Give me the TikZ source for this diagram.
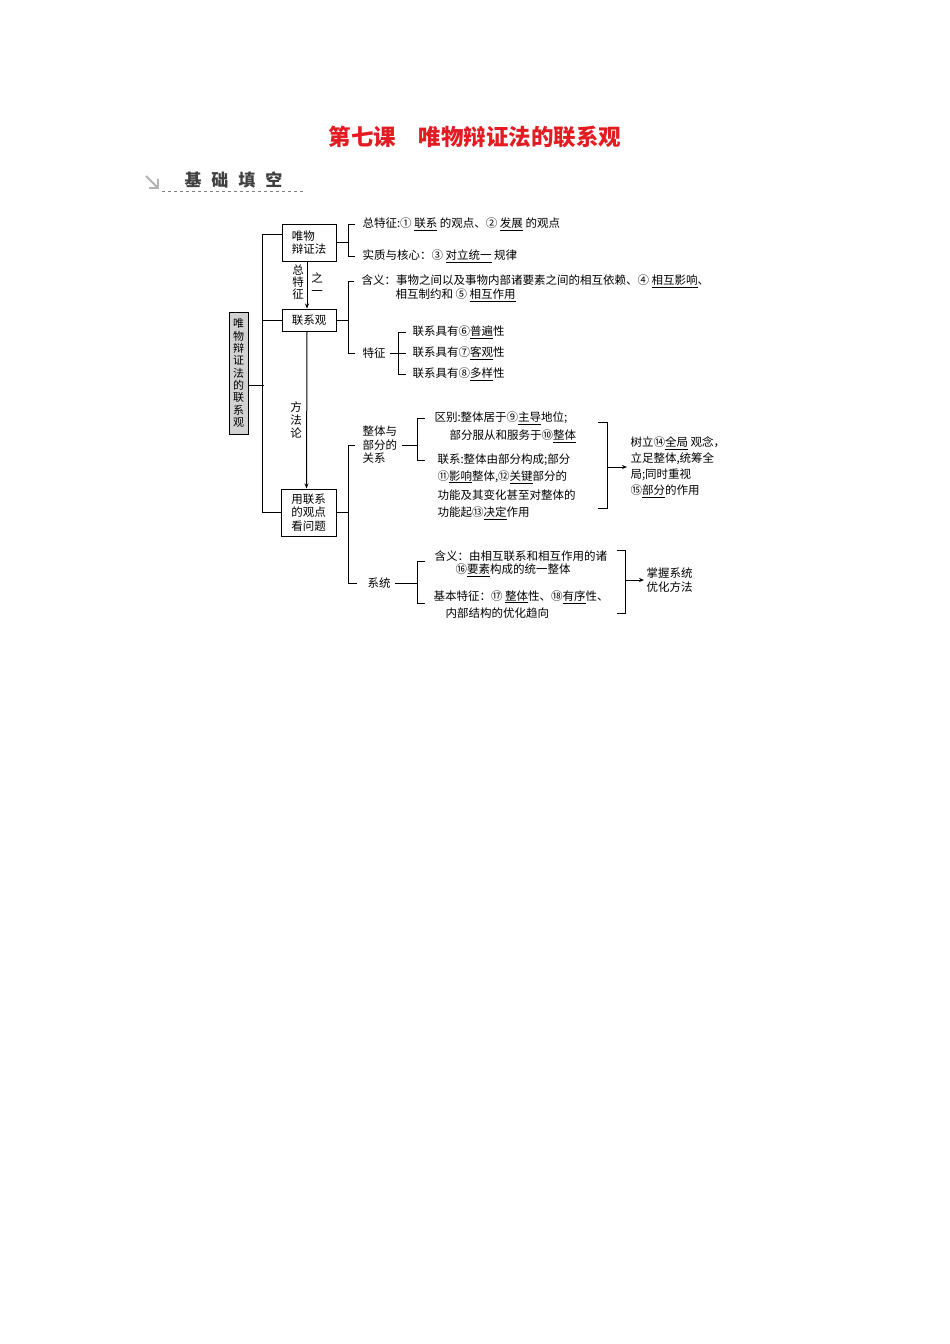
\documentclass[tikz,border=0pt]{standalone}
\usepackage{fontspec}
\setmainfont{Noto Sans CJK SC}
\usetikzlibrary{arrows.meta}
\definecolor{titelrot}{RGB}{226,28,34}
\newcommand{\ans}[1]{\underline{#1}}
\tikzset{
    kasten/.style={draw, line width=1pt, inner sep=0pt, align=left, font=\fontsize{11.5}{13}\selectfont},
    txt/.style={anchor=west, inner sep=0pt, align=left, font=\fontsize{11.5}{13}\selectfont},
    senkrecht/.style={inner sep=0pt, align=center, font=\fontsize{11.5}{12.3}\selectfont},
}
\begin{document}
\begin{tikzpicture}[x=1pt, y=-1pt, line width=1pt, >={Stealth[length=5pt,width=4pt]}]
        \fill[white] (0,0) rectangle (950,1344);

        % Überschrift
        \node[font=\fontsize{22.5}{22.5}\selectfont\bfseries, text=titelrot, inner sep=0pt] (titel) at (475,137) {第七课\hspace{1em}唯物辩证法的联系观};

        % Zwischenüberschrift mit Pfeil und gestrichelter Linie
        \draw[gray!60, line width=2pt] (146,176) -- (157,187);
        \draw[gray!60, line width=2pt] (149,188) -- (158,188) -- (158,179);
        \node[font=\fontsize{17}{17}\selectfont\bfseries, text=black!75, anchor=west, inner sep=0pt] (basis) at (184,180) {基\hspace{10pt}础\hspace{10pt}填\hspace{10pt}空};
        \draw[gray, dashed, line width=0.6pt] (162,191) -- (305,191);

        % Kästen links
        \node[kasten, align=center, fill=gray!35, minimum width=19pt, minimum height=122pt, font=\fontsize{11}{12.3}\selectfont] (zs) at (238.5,373) {唯\\物\\辩\\证\\法\\的\\联\\系\\观};
        \node[kasten, minimum width=54pt, minimum height=37pt] (wb) at (309,242.5) {唯物\\辩证法};
        \node[kasten, minimum width=54pt, minimum height=22pt] (lx) at (309,320) {联系观};
        \node[kasten, minimum width=55pt, minimum height=47pt, font=\fontsize{11.5}{13.5}\selectfont] (yl) at (308.5,512.5) {用联系\\的观点\\看问题};
        \draw ([yshift=-12]zs.east) -- ++(15,0);
        \draw ([yshift=8.5]wb.west) -- ++(-19,0) |- (yl.west);
        \draw (lx.west) -- ++(-19,0);

        % Pfeile zwischen den Kästen
        \draw[->] ([xshift=-2]wb.south) -- ([xshift=-2]lx.north);
        \draw[->] ([xshift=-2]lx.south) -- ([xshift=-2]yl.north);
        \node[senkrecht] (zt) at (298,282) {总\\特\\征};
        \node[senkrecht, font=\fontsize{11.5}{13}\selectfont] (zy) at (317,284) {之\\一};
        \node[senkrecht, font=\fontsize{11.5}{12.8}\selectfont] (ff) at (296,420) {方\\法\\论};

        % Zweig "唯物辩证法"
        \node[txt] (t1) at (362,224) {总特征:① \ans{联系} 的观点、② \ans{发展} 的观点};
        \node[txt] (t2) at (362,256) {实质与核心：③ \ans{对立统一} 规律};
        \draw (wb.east) -- ++(12,0);
        \draw ([xshift=-7]t1.west) -- ++(-7,0) |- ([xshift=-7]t2.west);

        % Zweig "联系观"
        \node[txt] (h1) at (361,281) {含义：事物之间以及事物内部诸要素之间的相互依赖、④ \ans{相互影响}、};
        \node[txt] (h2) at (395,295) {相互制约和 ⑤ \ans{相互作用}};
        \node[txt] (tz) at (362,353) {特征};
        \draw (lx.east) -- ++(12,0);
        \draw ([xshift=-7]h1.west) -- ++(-6,0) |- ([xshift=-7]tz.west);
        \foreach \n/\z/\w/\y in {1/⑥/普遍/332, 2/⑦/客观/353, 3/⑧/多样/374} {
            \node[txt] (f\n) at (412,\y) {联系具有\z\ans{\w}性};
        }
        \draw ([xshift=-6]f1.west) -- ++(-8,0) |- ([xshift=-6]f3.west);
        \draw ([xshift=4]tz.east) -- ([xshift=-6]f2.west);

        % Zweig "用联系的观点看问题"
        \node[txt, font=\fontsize{11.5}{13.5}\selectfont] (gb) at (362,445) {整体与\\部分的\\关系};
        \node[txt] (xt) at (367,583) {系统};
        \draw (yl.east) -- ++(12,0);
        \draw ([xshift=-7]gb.west) -- ++(-7,0) |- ([xshift=-10]xt.west);

        %整体与部分
        \node[txt] (q1) at (434,418) {区别:整体居于⑨\ans{主导}地位;};
        \node[txt] (q2) at (449,436) {部分服从和服务于⑩\ans{整体}};
        \node[txt] (q3) at (437,460) {联系:整体由部分构成;部分};
        \node[txt] (q4) at (437,477) {⑪\ans{影响}整体,⑫\ans{关键}部分的};
        \node[txt] (q5) at (437,495) {功能及其变化甚至对整体的};
        \node[txt] (q6) at (437,513) {功能起⑬\ans{决定}作用};
        \draw ([xshift=-9]q1.west) -- ++(-8,0) |- ([xshift=-12]q3.west);
        \draw ([xshift=4]gb.east) -- ++(16.5,0);
        \node[txt, font=\fontsize{11.5}{16}\selectfont] (qs) at (630,467) {树立⑭\ans{全局} 观念，\\立足整体,统筹全\\局;同时重视\\⑮\ans{部分}的作用};
        \coordinate (k1) at (607,422);
        \coordinate (k2) at (607,508);
        \draw ([xshift=-9]k1) -- (k1) -- (k2) -- ([xshift=-9]k2);
        \draw[->] (k1 |- qs.west) -- ([xshift=-3]qs.west);

        % 系统
        \node[txt] (s1) at (434,556) {含义：由相互联系和相互作用的诸};
        \node[txt] (s2) at (455,570) {⑯\ans{要素}构成的统一整体};
        \node[txt] (s3) at (433,597) {基本特征：⑰ \ans{整体}性、⑱\ans{有序}性、};
        \node[txt] (s4) at (445,613) {内部结构的优化趋向};
        \draw ([xshift=-9,yshift=-5]s1.west) -- ++(-8,0) |- ([xshift=-8,yshift=-6]s3.west);
        \draw ([xshift=4]xt.east) -- ++(23,0);
        \node[txt, font=\fontsize{11.5}{14}\selectfont] (mx) at (646,580) {掌握系统\\优化方法};
        \coordinate (m1) at (625,550);
        \coordinate (m2) at (625,613);
        \draw ([xshift=-8]m1) -- (m1) -- (m2) -- ([xshift=-8]m2);
        \draw[->] (m1 |- mx.west) -- ([xshift=-2]mx.west);

    \end{tikzpicture}
\end{document}
